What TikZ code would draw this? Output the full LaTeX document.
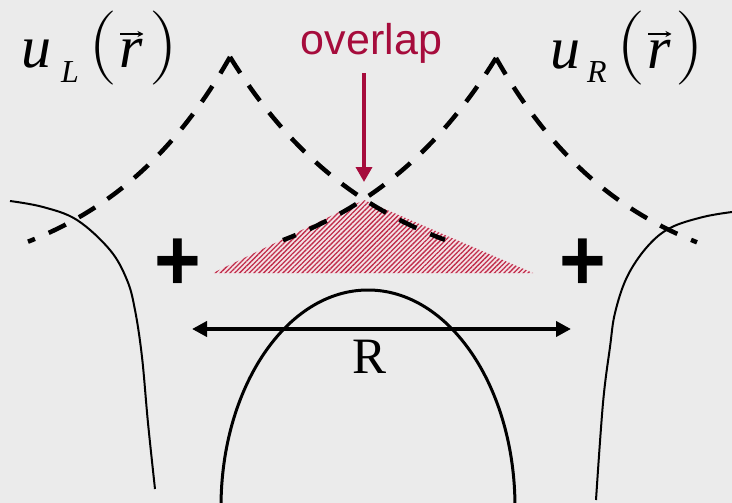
\documentclass[tikz,border=0pt]{standalone}
\usepackage{fontspec}
\newfontfamily\tnr{Liberation Serif}
\newfontfamily\sansfont{Liberation Sans}
\usetikzlibrary{arrows.meta,patterns.meta,calc}
\definecolor{bg}{RGB}{235,235,235}
\definecolor{crim}{RGB}{166,12,60}
\definecolor{hatchred}{RGB}{192,45,75}
\definecolor{hatchfill}{RGB}{244,226,230}
\begin{document}
\begin{tikzpicture}[x=1pt,y=-1pt,
  wave/.style={line width=4.5pt, dash pattern=on 19pt off 15pt},
  glyph/.style={inner sep=0pt, anchor=base},
  bigit/.style={glyph, font=\tnr\fontsize{60}{60}\selectfont\itshape},
  subit/.style={glyph, font=\tnr\fontsize{32}{32}\selectfont\itshape},
  paren/.style={glyph, font=\rmfamily\fontsize{74}{74}\selectfont},
  vecarrow/.style={line width=1.3pt, -{Stealth[length=6pt,width=6pt]}},
  plus/.style={inner sep=0pt, font=\sansfont\bfseries\fontsize{80}{80}\selectfont},
  orbit/.style={line width=2pt},
  arch/.style={line width=3pt}]
\fill[bg] (0,0) rectangle (732,503);
\useasboundingbox (0,0) rectangle (732,503);

% hatched overlap region
\path[preaction={fill=hatchfill}, pattern={Lines[angle=45,distance=3.4pt,line width=1.3pt]}, pattern color=hatchred]
  (213,273) -- (364,200) -- (533,273) -- cycle;

% dashed wavefunctions
\draw[wave] plot[domain=0:202,samples=80,variable=\x] ({230-\x},{295-238*exp(-\x/135)});
\draw[wave] plot[domain=0:215,samples=80,variable=\x] ({230+\x},{295-238*exp(-\x/147)});
\draw[wave] plot[domain=0:213,samples=80,variable=\x] ({496-\x},{296-238*exp(-\x/147)});
\draw[wave] plot[domain=0:201,samples=80,variable=\x] ({496+\x},{296-238*exp(-\x/135)});

% solid curves
\draw[orbit] plot[smooth,tension=0.6] coordinates {(10,201) (43,207) (77,220) (110,250) (127,280) (135,310) (142,357) (148,423) (155,489)};
\draw[orbit] plot[smooth,tension=0.6] coordinates {(732,212) (703,217) (670,228) (647,247) (627,277) (615,313) (610,347) (603,403) (596,500)};
\draw[arch] (221,507) arc[start angle=180, end angle=360, x radius=147, y radius=217];

% charges
\node[plus] (plusL) at (178,265) {\scalebox{1}[1.1]{+}};
\node[plus] (plusR) at (583,265) {\scalebox{1}[1.1]{+}};

% distance R
\coordinate (rl) at (192,329);
\coordinate (rr) at (571,329);
\draw[line width=4pt, {Triangle[length=15pt,width=15pt]}-{Triangle[length=15pt,width=15pt]}] (rl) -- (rr);
\node[glyph, font=\tnr\fontsize{51}{51}\selectfont] (Rlab) at (370,373) {R};

% overlap label
\node[glyph, font=\sansfont\fontsize{43}{43}\selectfont, text=crim] (ov) at (371.5,55) {overlap};
\coordinate (ovtip) at (364,182);
\draw[crim, line width=3.5pt, -{Triangle[length=15pt,width=16pt]}] ($(ov.south -| ovtip)+(0,9)$) -- (ovtip);

% u_L(r)
\node[bigit] (uL) at (36.5,68) {u};
\node[subit] (subL) at (70,83) {L};
\node[paren] (lpL) at (103,66.5) {\scalebox{1.1}[1]{(}};
\node[bigit] (rL) at (131,68) {r};
\node[paren] (rpL) at (164,66.5) {\scalebox{1.1}[1]{)}};
\draw[vecarrow] ($(rL.base)+(-11,-34)$) -- ($(rL.base)+(12.5,-34)$);

% u_R(r)
\node[bigit] (uR) at (565.5,69) {u};
\node[subit] (subR) at (597,83) {R};
\node[paren] (lpR) at (631,67) {\scalebox{1.1}[1]{(}};
\node[bigit] (rR) at (659,69) {r};
\node[paren] (rpR) at (690,67) {\scalebox{1.1}[1]{)}};
\draw[vecarrow] ($(rR.base)+(-11,-35)$) -- ($(rR.base)+(12.5,-35)$);
\end{tikzpicture}
\end{document}
